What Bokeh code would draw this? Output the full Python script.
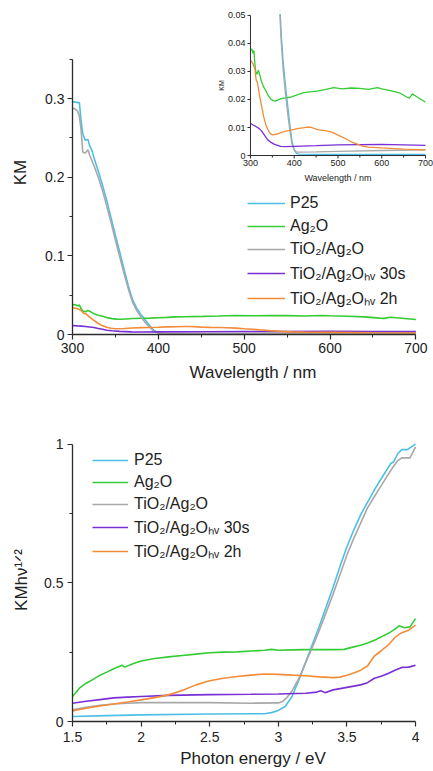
import math
from bokeh.plotting import figure
from bokeh.layouts import column
from bokeh.models import Range1d, FixedTicker, Legend, LegendItem
from bokeh.core.properties import value
from bokeh.embed import file_html
from bokeh.resources import INLINE

FONT = "Liberation Sans"
AXIS_COLOR = "#2b2b2b"

series_names = ["P25", "Ag₂O", "TiO₂/Ag₂O", "TiO₂/Ag₂Oₕᵥ 30s", "TiO₂/Ag₂Oₕᵥ 2h"]
series_colors = ["#4dbfe6", "#33cc33", "#a8a8a8", "#7a2fd4", "#f28c38"]

# ---------------- top panel: KM vs wavelength ----------------
wl_p25 = [300, 303, 306, 308, 310, 312, 315, 318, 320, 323, 325, 330, 335, 340, 345, 350, 355, 360,
          365, 370, 375, 380, 385, 390, 395, 400, 405, 410, 450, 500, 600, 700]
km_p25 = [0.296, 0.296, 0.295, 0.295, 0.272, 0.255, 0.247, 0.248, 0.240, 0.233, 0.225, 0.208, 0.190,
          0.170, 0.148, 0.126, 0.105, 0.083, 0.062, 0.044, 0.033, 0.025, 0.018, 0.011, 0.005, 0.002,
          0.0008, 0.0005, 0.0004, 0.0004, 0.0004, 0.0004]

wl_ag2o = [300, 303, 306, 308, 310, 312, 315, 318, 320, 325, 330, 335, 340, 346, 352, 357, 362, 370,
           380, 391, 400, 410, 420, 430, 452, 470, 490, 510, 530, 550, 570, 590, 600, 620, 640, 658,
           663, 670, 680, 690, 700]
km_ag2o = [0.0375, 0.038, 0.0365, 0.0375, 0.033, 0.030, 0.029, 0.0305, 0.0295, 0.0265, 0.0245,
           0.0232, 0.0215, 0.0202, 0.0196, 0.0194, 0.0198, 0.0203, 0.0206, 0.0208, 0.0213, 0.0218,
           0.0224, 0.0226, 0.023, 0.0235, 0.0242, 0.0238, 0.0241, 0.0240, 0.0236, 0.0242, 0.0238,
           0.0232, 0.0224, 0.0208, 0.0205, 0.022, 0.021, 0.020, 0.019]

wl_tag = [300, 303, 306, 308, 310, 312, 315, 318, 320, 325, 330, 335, 340, 345, 350, 355, 360, 365,
          370, 375, 380, 385, 390, 395, 400, 405, 410, 450, 500, 600, 700]
km_tag = [0.288, 0.287, 0.284, 0.278, 0.260, 0.232, 0.231, 0.235, 0.228, 0.215, 0.200, 0.183, 0.163,
          0.142, 0.120, 0.099, 0.078, 0.058, 0.041, 0.030, 0.022, 0.015, 0.009, 0.004, 0.002, 0.0013,
          0.0012, 0.0013, 0.0015, 0.0018, 0.0020]

wl_30s = [300, 305, 310, 315, 320, 325, 330, 335, 340, 346, 355, 369, 380, 400, 450, 500, 550, 600,
          650, 700]
km_30s = [0.0115, 0.011, 0.0106, 0.0101, 0.0096, 0.0088, 0.0077, 0.0066, 0.0055, 0.0048, 0.004,
          0.0033, 0.0032, 0.0033, 0.0035, 0.0038, 0.0039, 0.004, 0.0038, 0.0036]

wl_2h = [300, 305, 310, 313, 316, 320, 325, 330, 335, 340, 345, 350, 360, 370, 380, 390, 400, 410,
         420, 430, 437, 450, 460, 470, 480, 490, 500, 510, 520, 530, 540, 555, 570, 600, 650, 700]
km_2h = [0.034, 0.033, 0.031, 0.027, 0.026, 0.022, 0.018, 0.014, 0.011, 0.0092, 0.0079, 0.0074,
         0.0076, 0.0082, 0.0087, 0.009, 0.0093, 0.0097, 0.0099, 0.0101, 0.0101, 0.0094, 0.0091,
         0.0089, 0.0086, 0.0081, 0.0073, 0.0066, 0.0058, 0.0049, 0.0043, 0.0034, 0.003, 0.0027,
         0.0023, 0.002]

top_x = [wl_p25, wl_ag2o, wl_tag, wl_30s, wl_2h]
top_y = [km_p25, km_ag2o, km_tag, km_30s, km_2h]

top_xticks = [300, 400, 500, 600, 700]
top_xtick_labels = ["300", "400", "500", "600", "700"]
top_xminor = [350, 450, 550, 650]
top_yticks = [0, 0.1, 0.2, 0.3]
top_ytick_labels = ["0", "0.1", "0.2", "0.3"]
top_yminor = [0.05, 0.15, 0.25, 0.35]
top_xbounds = (300, 700)
top_ybounds = (0, 0.35)

inset_xticks = [300, 400, 500, 600, 700]
inset_xtick_labels = ["300", "400", "500", "600", "700"]
inset_xminor = [350, 450, 550, 650]
inset_yticks = [0, 0.01, 0.02, 0.03, 0.04, 0.05]
inset_ytick_labels = ["0", "0.01", "0.02", "0.03", "0.04", "0.05"]

# ---------------- bottom panel: KMhv^1/2 vs photon energy ----------------
e_p25 = [1.5, 1.75, 2.0, 2.5, 2.9, 2.95, 3.0, 3.05, 3.1, 3.15, 3.2, 3.25, 3.3, 3.35, 3.4, 3.45, 3.5,
         3.55, 3.6, 3.65, 3.7, 3.75, 3.8, 3.82, 3.84, 3.87, 3.9, 3.94, 3.97, 4.0]
t_p25 = [0.018, 0.021, 0.024, 0.027, 0.028, 0.032, 0.040, 0.054, 0.090, 0.150, 0.215, 0.280, 0.345,
         0.415, 0.485, 0.560, 0.630, 0.690, 0.745, 0.790, 0.835, 0.875, 0.915, 0.930, 0.935, 0.965,
         0.980, 0.980, 0.990, 1.000]

e_ag2o = [1.5, 1.55, 1.6, 1.65, 1.7, 1.75, 1.8, 1.84, 1.86, 1.88, 1.95, 2.0, 2.1, 2.2, 2.3, 2.4,
          2.5, 2.6, 2.7, 2.8, 2.9, 2.95, 3.0, 3.1, 3.2, 3.3, 3.4, 3.48, 3.55, 3.6, 3.65, 3.7, 3.75,
          3.8, 3.85, 3.88, 3.92, 3.96, 4.0]
t_ag2o = [0.090, 0.120, 0.138, 0.152, 0.167, 0.178, 0.190, 0.198, 0.203, 0.196, 0.210, 0.218,
          0.227, 0.233, 0.238, 0.243, 0.248, 0.250, 0.251, 0.254, 0.257, 0.260, 0.257, 0.258, 0.259,
          0.259, 0.259, 0.260, 0.269, 0.275, 0.283, 0.293, 0.305, 0.317, 0.333, 0.345, 0.338,
          0.341, 0.371]

e_tag = [1.5, 1.6, 1.7, 1.8, 1.9, 2.0, 2.2, 2.5, 2.8, 3.0, 3.03, 3.06, 3.1, 3.15, 3.2, 3.25, 3.3,
         3.35, 3.4, 3.45, 3.5, 3.55, 3.6, 3.65, 3.7, 3.75, 3.8, 3.84, 3.87, 3.9, 3.96, 4.0]
t_tag = [0.042, 0.051, 0.058, 0.063, 0.066, 0.068, 0.068, 0.068, 0.066, 0.067, 0.072, 0.085, 0.110,
         0.155, 0.213, 0.270, 0.330, 0.395, 0.460, 0.530, 0.600, 0.660, 0.715, 0.770, 0.810, 0.850,
         0.890, 0.920, 0.940, 0.950, 0.950, 0.990]

e_30s = [1.5, 1.6, 1.7, 1.8, 1.9, 2.0, 2.2, 2.5, 2.8, 3.0, 3.2, 3.28, 3.31, 3.34, 3.4, 3.5, 3.6,
         3.65, 3.7, 3.75, 3.8, 3.85, 3.9, 3.95, 4.0]
t_30s = [0.066, 0.073, 0.079, 0.085, 0.088, 0.090, 0.094, 0.097, 0.098, 0.099, 0.102, 0.106, 0.111,
         0.104, 0.114, 0.123, 0.132, 0.140, 0.156, 0.163, 0.173, 0.185, 0.195, 0.196, 0.203]

e_2h = [1.5, 1.6, 1.7, 1.8, 1.9, 2.0, 2.1, 2.2, 2.3, 2.4, 2.5, 2.6, 2.7, 2.8, 2.9, 3.0, 3.1, 3.2,
        3.3, 3.4, 3.45, 3.5, 3.55, 3.6, 3.65, 3.7, 3.75, 3.8, 3.85, 3.9, 3.95, 4.0]
t_2h = [0.038, 0.048, 0.056, 0.063, 0.070, 0.078, 0.086, 0.096, 0.112, 0.132, 0.147, 0.156, 0.162,
        0.167, 0.171, 0.170, 0.167, 0.165, 0.161, 0.158, 0.160, 0.167, 0.175, 0.185, 0.200, 0.236,
        0.255, 0.275, 0.303, 0.320, 0.329, 0.347]

bot_x = [e_p25, e_ag2o, e_tag, e_30s, e_2h]
bot_y = [t_p25, t_ag2o, t_tag, t_30s, t_2h]

bot_xticks = [1.5, 2, 2.5, 3, 3.5, 4]
bot_xtick_labels = ["1.5", "2", "2.5", "3", "3.5", "4"]
bot_xminor = [1.75, 2.25, 2.75, 3.25, 3.75]
bot_yticks = [0, 0.5, 1]
bot_ytick_labels = ["0", "0.5", "1"]
bot_yminor = [0.25, 0.75]
bot_xbounds = (1.5, 4)
bot_ybounds = (0, 1)


def style(p, xt, xl, xm, yt, yl, ym, xb, yb, xlabel, ylabel, xstand, ystand, xlstand, ylstand):
    p.xgrid.visible = False
    p.ygrid.visible = False
    p.outline_line_color = None
    p.background_fill_color = "white"
    p.border_fill_color = "white"
    p.xaxis.ticker = FixedTicker(ticks=xt, minor_ticks=xm)
    p.yaxis.ticker = FixedTicker(ticks=yt, minor_ticks=ym)
    p.xaxis.major_label_overrides = dict(zip(xt, xl))
    p.yaxis.major_label_overrides = dict(zip(yt, yl))
    p.xaxis.bounds = xb
    p.yaxis.bounds = yb
    p.xaxis.axis_label = xlabel
    p.yaxis.axis_label = ylabel
    for ax in (p.xaxis, p.yaxis):
        ax.axis_line_color = AXIS_COLOR
        ax.axis_line_width = 1.3
        ax.major_tick_line_color = AXIS_COLOR
        ax.minor_tick_line_color = AXIS_COLOR
        ax.major_tick_line_width = 1.2
        ax.minor_tick_line_width = 1.0
        ax.major_tick_out = 5
        ax.major_tick_in = 0
        ax.minor_tick_out = 3
        ax.minor_tick_in = 0
        ax.major_label_text_font = FONT
        ax.major_label_text_font_size = "14px"
        ax.major_label_text_color = "#222222"
        ax.axis_label_text_font = FONT
        ax.axis_label_text_font_size = "17px"
        ax.axis_label_text_font_style = "normal"
        ax.axis_label_text_color = "#222222"
    p.xaxis.major_label_standoff = xstand
    p.yaxis.major_label_standoff = ystand
    p.xaxis.axis_label_standoff = xlstand
    p.yaxis.axis_label_standoff = ylstand


def add_legend(p, renderers, loc, glyph_w, standoff, spacing):
    items = [LegendItem(label=n, renderers=[r]) for n, r in zip(series_names, renderers)]
    leg = Legend(items=items, location=loc, padding=0, margin=0, spacing=spacing,
                 glyph_width=glyph_w, glyph_height=20, label_height=20, label_standoff=standoff,
                 label_text_font=FONT, label_text_font_size="16px", label_text_color="#222222",
                 background_fill_alpha=0, border_line_color=None)
    p.add_layout(leg)


# ---------------- figure 1 ----------------
p1 = figure(width=433, height=400, x_range=Range1d(300, 720.5), y_range=Range1d(0, 0.4122),
            output_backend="svg", toolbar_location=None,
            min_border_left=72, min_border_right=0, min_border_top=10, min_border_bottom=66)
style(p1, top_xticks, top_xtick_labels, top_xminor, top_yticks, top_ytick_labels, top_yminor,
      top_xbounds, top_ybounds, "Wavelength / nm", "KM", 3, 3, 7, 12)

r_top = []
for xs, ys, c in zip(top_x, top_y, series_colors):
    r_top.append(p1.line(xs, ys, line_color=c, line_width=1.6))
add_legend(p1, r_top, (175, 25), 38, 5, 3)

# inset
sub = p1.subplot(x_source=Range1d(inset_xticks[0], inset_xticks[-1]),
                 y_source=Range1d(inset_yticks[0], inset_yticks[-1]),
                 x_target=Range1d(507.3, 711.2), y_target=Range1d(0.2277, 0.4059))
for xs, ys, c in zip(top_x, top_y, series_colors):
    sub.line(xs, ys, line_color=c, line_width=1.3)
# mask whatever overshoots the inset's top
sub.quad(left=[inset_xticks[0]], right=[inset_xticks[-1]], bottom=[inset_yticks[-1] * 1.01],
         top=[inset_yticks[-1] * 1.2], fill_color="white", line_color=None)
x0, x1 = inset_xticks[0], inset_xticks[-1]
y0, y1 = inset_yticks[0], inset_yticks[-1]
sub.segment(x0=[x0, x0], y0=[y0, y0], x1=[x1, x0], y1=[y0, y1], line_color=AXIS_COLOR, line_width=1)
sub.ray(x=inset_xticks, y=[y0] * len(inset_xticks), length=3, length_units="screen",
        angle=-math.pi / 2, line_color=AXIS_COLOR, line_width=1)
sub.ray(x=inset_xminor, y=[y0] * len(inset_xminor), length=2, length_units="screen",
        angle=-math.pi / 2, line_color=AXIS_COLOR, line_width=1)
sub.ray(x=[x0] * len(inset_yticks), y=inset_yticks, length=3, length_units="screen",
        angle=math.pi, line_color=AXIS_COLOR, line_width=1)
sub.text(x=inset_xticks, y=[y0] * len(inset_xticks), text=inset_xtick_labels, y_offset=4,
         text_align="center", text_baseline="top", text_font=value(FONT), text_font_size="9px",
         text_color="#222222")
sub.text(x=[x0] * len(inset_yticks), y=inset_yticks, text=inset_ytick_labels, x_offset=-5,
         text_align="right", text_baseline="middle", text_font=value(FONT), text_font_size="9px",
         text_color="#222222")
sub.text(x=[x0], y=[(y0 + y1) / 2], text=["KM"], x_offset=-29, angle=math.pi / 2,
         text_align="center", text_baseline="middle", text_font=value(FONT), text_font_size="7px",
         text_color="#222222")
sub.text(x=[(x0 + x1) / 2], y=[y0], text=["Wavelength / nm"], y_offset=17,
         text_align="center", text_baseline="top", text_font=value(FONT), text_font_size="9px",
         text_color="#222222")

# ---------------- figure 2 ----------------
p2 = figure(width=433, height=371, x_range=Range1d(1.5, 4.131), y_range=Range1d(0, 1.02),
            output_backend="svg", toolbar_location=None,
            min_border_left=72, min_border_right=0, min_border_top=38, min_border_bottom=50)
style(p2, bot_xticks, bot_xtick_labels, bot_xminor, bot_yticks, bot_ytick_labels, bot_yminor,
      bot_xbounds, bot_ybounds, "Photon energy / eV", "KMhν¹ᐟ²", 5, 4, 4, 10)

r_bot = []
for xs, ys, c in zip(bot_x, bot_y, series_colors):
    r_bot.append(p2.line(xs, ys, line_color=c, line_width=1.6))
add_legend(p2, r_bot, (20, 159), 36, 6, 2)

layout = column(p1, p2, spacing=0)
open("out.html", "w").write(file_html(layout, INLINE))
